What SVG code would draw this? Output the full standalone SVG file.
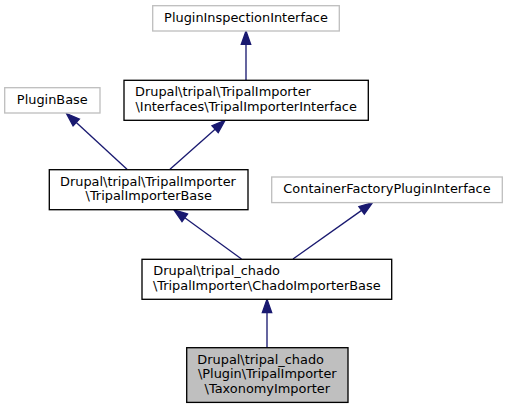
<svg xmlns="http://www.w3.org/2000/svg" width="508" height="409" viewBox="0 0 508 409">
<style>
  text { font-family: "DejaVu Sans", "Liberation Sans", sans-serif; font-size: 12.9px; fill: #000; }
  .grey { fill: #fff; stroke: #bfbfbf; stroke-width: 1.33; }
  .doc { fill: #fff; stroke: #000; stroke-width: 1.33; }
  .cur { fill: #bfbfbf; stroke: #000; stroke-width: 1.33; }
  .edge line { stroke: #191970; stroke-width: 1.33; }
  .edge polygon { fill: #191970; stroke: #191970; stroke-width: 1.33; }
  .m { text-anchor: middle; }
  .s { text-anchor: start; }
</style>
<rect width="508" height="409" fill="#fff"/>
<g id="connectors" class="edge">
  <line x1="246" y1="80.3" x2="246" y2="44.3"/>
  <polygon points="241.3,44.3 246,31 250.7,44.3"/>
  <line x1="127" y1="169.3" x2="76.3" y2="122.5"/>
  <polygon points="79.4,119.1 66.5,113.5 73.1,125.9"/>
  <line x1="170" y1="169.3" x2="215.1" y2="129.2"/>
  <polygon points="218.2,132.6 225,120.3 212,125.7"/>
  <line x1="241.5" y1="259" x2="184.8" y2="217.8"/>
  <polygon points="187.5,214 174,210 182,221.6"/>
  <line x1="293" y1="259" x2="361.6" y2="210.4"/>
  <polygon points="364.3,214.2 372.5,202.7 358.9,206.6"/>
  <line x1="267" y1="348" x2="267" y2="312.6"/>
  <polygon points="262.3,312.6 267,299.3 271.7,312.6"/>
</g>
<g id="node-PluginInspectionInterface">
  <rect class="grey" x="152.7" y="5.7" width="186.6" height="25.3"/>
  <text class="m" x="246" y="22">PluginInspectionInterface</text>
</g>
<g id="node-TripalImporterInterface">
  <rect class="doc" x="124" y="80.3" width="244.3" height="40"/>
  <text class="s" x="135" y="96.3">Drupal\tripal\TripalImporter</text>
  <text class="m" x="246.2" y="111">\Interfaces\TripalImporterInterface</text>
</g>
<g id="node-PluginBase">
  <rect class="grey" x="4.7" y="87.7" width="95.3" height="25.3"/>
  <text class="m" x="52.3" y="104">PluginBase</text>
</g>
<g id="node-TripalImporterBase">
  <rect class="doc" x="49.3" y="169.7" width="198.7" height="40"/>
  <text class="s" x="60" y="185.7">Drupal\tripal\TripalImporter</text>
  <text class="m" x="148.7" y="200.3">\TripalImporterBase</text>
</g>
<g id="node-ContainerFactoryPluginInterface">
  <rect class="grey" x="271.7" y="177" width="230.6" height="25.6"/>
  <text class="m" x="387" y="193.3">ContainerFactoryPluginInterface</text>
</g>
<g id="node-ChadoImporterBase">
  <rect class="doc" x="142" y="259.3" width="249.7" height="40"/>
  <text class="s" x="153.3" y="275.3">Drupal\tripal_chado</text>
  <text class="m" x="266.8" y="290">\TripalImporter\ChadoImporterBase</text>
</g>
<g id="node-TaxonomyImporter">
  <rect class="cur" x="186.7" y="347.7" width="161.3" height="54.7"/>
  <text class="s" x="197.3" y="363.7">Drupal\tripal_chado</text>
  <text class="m" x="267.3" y="378.4">\Plugin\TripalImporter</text>
  <text class="m" x="267.3" y="393">\TaxonomyImporter</text>
</g>
</svg>
